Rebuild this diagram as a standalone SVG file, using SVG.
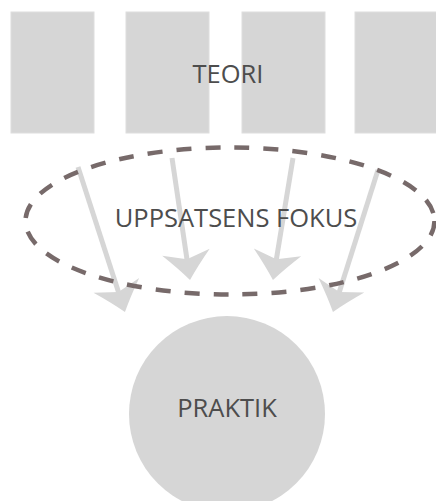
<svg xmlns="http://www.w3.org/2000/svg" width="436" height="501" viewBox="0 0 436 501">
<style>
.box{fill:#d6d6d6;stroke:#dedede;stroke-width:1}
.lbl{font-family:"Open Sans","Noto Sans","Liberation Sans",sans-serif;font-size:25.5px;fill:#4d4d4d;text-anchor:middle}
.shaft{stroke:#d6d6d6;stroke-width:5;fill:none;marker-end:url(#head)}
.focus{fill:none;stroke:#776a6a;stroke-width:4.5;stroke-dasharray:15 14}
</style>
<defs>
<marker id="head" markerUnits="userSpaceOnUse" orient="auto" refX="0" refY="0" markerWidth="60" markerHeight="60" viewBox="-30 -30 60 60" overflow="visible">
<path d="M20,0 Q7,-10 -8,-24 L-1,0 L-8,24 Q7,10 20,0 Z" fill="#d6d6d6"/>
</marker>
</defs>
<rect width="436" height="501" fill="#ffffff"/>
<g id="teori">
<rect class="box" x="11" y="12" width="83" height="121"/>
<rect class="box" x="126" y="12" width="83" height="121"/>
<rect class="box" x="242" y="12" width="83" height="121"/>
<rect class="box" x="355" y="12" width="83" height="121"/>
<text class="lbl" x="228" y="83">TEORI</text>
</g>
<g id="connectors">
<line class="shaft" x1="78" y1="167" x2="118.8" y2="293"/>
<line class="shaft" x1="172" y1="158" x2="187.1" y2="260.2"/>
<line class="shaft" x1="293" y1="158" x2="276.2" y2="260.3"/>
<line class="shaft" x1="378" y1="170" x2="339" y2="292.9"/>
</g>
<g id="fokus">
<ellipse class="focus" cx="230" cy="221" rx="204.5" ry="73.5"/>
<text class="lbl" x="236" y="227">UPPSATSENS FOKUS</text>
</g>
<g id="praktik">
<circle cx="227" cy="414" r="98" fill="#d6d6d6"/>
<text class="lbl" x="227" y="417">PRAKTIK</text>
</g>
</svg>
